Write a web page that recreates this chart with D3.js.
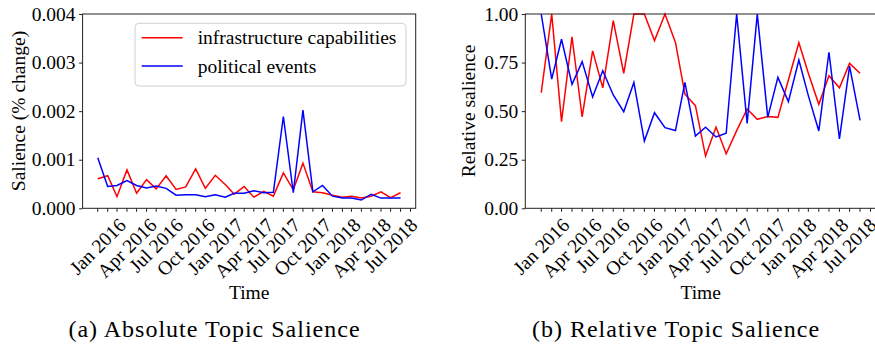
<!DOCTYPE html>
<html>
<head>
<meta charset="utf-8">
<script src="https://cdn.jsdelivr.net/npm/d3@7/dist/d3.min.js"></script>
<style>
  body { margin: 0; background: #fff; }
  svg text { font-family: "Liberation Serif", "Times New Roman", Times, serif; }
</style>
</head>
<body>
<script>

// monthly observations, Jan 2016 .. Aug 2018
var months = [
  "2016-01","2016-02","2016-03","2016-04","2016-05","2016-06","2016-07","2016-08",
  "2016-09","2016-10","2016-11","2016-12","2017-01","2017-02","2017-03","2017-04",
  "2017-05","2017-06","2017-07","2017-08","2017-09","2017-10","2017-11","2017-12",
  "2018-01","2018-02","2018-03","2018-04","2018-05","2018-06","2018-07","2018-08"
];

var tickMonths = ["2016-01","2016-04","2016-07","2016-10","2017-01","2017-04",
                  "2017-07","2017-10","2018-01","2018-04","2018-07"];
var tickLabels = ["Jan 2016","Apr 2016","Jul 2016","Oct 2016","Jan 2017","Apr 2017",
                  "Jul 2017","Oct 2017","Jan 2018","Apr 2018","Jul 2018"];

var seriesNames = ["infrastructure capabilities", "political events"];

// (a) absolute salience
var infraAbs = [0.00061,0.00067,0.00024,0.00079,0.00031,0.00059,0.00040,0.00067,
                0.00039,0.00044,0.00081,0.00041,0.00068,0.00049,0.00029,0.00045,
                0.00023,0.00035,0.00025,0.00073,0.00038,0.00093,0.00034,0.00032,
                0.00027,0.00023,0.00025,0.00021,0.00025,0.00034,0.00022,0.00032];
var polAbs   = [0.00104,0.00045,0.00047,0.00057,0.00047,0.00042,0.00046,0.00041,
                0.00027,0.00028,0.00028,0.00024,0.00028,0.00023,0.00031,0.00031,
                0.00036,0.00032,0.00033,0.00189,0.00032,0.00202,0.00034,0.00047,
                0.00025,0.00021,0.00021,0.00017,0.00029,0.00021,0.00021,0.00021];

// (b) relative salience
var infraRel = [0.595,1.000,0.446,0.883,0.470,0.810,0.620,0.966,
                0.695,1.000,1.000,0.863,1.000,0.854,0.587,0.528,
                0.269,0.418,0.281,0.400,0.511,0.458,0.472,0.468,
                0.660,0.852,0.695,0.535,0.682,0.620,0.746,0.695];
var polRel   = [1.000,0.665,0.870,0.638,0.755,0.573,0.708,0.583,
                0.497,0.648,0.346,0.492,0.415,0.400,0.648,0.372,
                0.417,0.367,0.386,1.000,0.437,1.000,0.468,0.674,
                0.549,0.763,0.580,0.398,0.803,0.357,0.732,0.453];

var absTicks = [0, 0.001, 0.002, 0.003, 0.004];
var relTicks = [0, 0.25, 0.5, 0.75, 1.0];


var W = 875, H = 347,
    fs = 19.5,
    serif = "Liberation Serif, Times New Roman, Times, serif",
    parse = d3.timeParse("%Y-%m"),
    dates = months.map(parse),
    colors = ["#ff0000", "#0000ff"];

var svg = d3.select("body").append("svg")
    .attr("width", W)
    .attr("height", H)
    .attr("font-family", serif);


function panel(opt) {

    var span = dates[dates.length - 1] - dates[0],
        pad = span * 0.05;

    var x = d3.scaleTime()
        .domain([new Date(+dates[0] - pad), new Date(+dates[dates.length - 1] + pad)])
        .range([opt.left, opt.right]);

    var y = d3.scaleLinear()
        .domain([opt.yTicks[0], opt.yTicks[opt.yTicks.length - 1]])
        .range([208.3, 14]);

    var g = svg.append("g");

    // lines
    var line = d3.line()
        .x(function(d, i) { return x(dates[i]); })
        .y(function(d) { return y(d); });

    opt.series.forEach(function(s, k) {
        g.append("path")
            .datum(s)
            .attr("d", line)
            .attr("fill", "none")
            .attr("stroke", colors[k])
            .attr("stroke-width", 1.5);
    });

    // frame
    g.append("rect")
        .attr("x", opt.left)
        .attr("y", 14)
        .attr("width", opt.right - opt.left)
        .attr("height", 208.3 - 14)
        .attr("fill", "none")
        .attr("stroke", "#222")
        .attr("stroke-width", 1);

    // y axis
    var yAxis = d3.axisLeft(y)
        .tickValues(opt.yTicks)
        .tickFormat(d3.format(opt.yFormat))
        .tickSize(3.5)
        .tickPadding(3.5);

    var ya = g.append("g")
        .attr("transform", "translate(" + opt.left + ",0)")
        .call(yAxis)
        .attr("font-family", serif)
        .attr("font-size", fs);
    ya.select(".domain").remove();
    ya.selectAll("line").attr("stroke", "#222");
    ya.selectAll("text").attr("fill", "#000");

    // x axis: minor tick each month, label each quarter
    var tickDates = d3.timeMonth.range(dates[0], x.domain()[1]);

    var xa = g.append("g")
        .attr("transform", "translate(0,208.3)");

    xa.selectAll("line")
        .data(tickDates)
        .join("line")
            .attr("x1", function(d) { return x(d); })
            .attr("x2", function(d) { return x(d); })
            .attr("y1", 0)
            .attr("y2", 3.5)
            .attr("stroke", "#222")
            .attr("stroke-width", 1);

    xa.selectAll("text")
        .data(tickMonths)
        .join("text")
            .text(function(d, i) { return tickLabels[i]; })
            .attr("font-size", fs)
            .attr("text-anchor", "middle")
            .attr("dominant-baseline", "central")
            .each(function(d) {
                var L = this.getComputedTextLength(),
                    half = (L + fs * 0.8) / (2 * Math.SQRT2);
                d3.select(this)
                    .attr("transform", "translate(" + x(parse(d)) + "," + (8 + half) + ") rotate(-45)");
            });

    // axis titles
    g.append("text")
        .attr("x", (opt.left + opt.right) / 2)
        .attr("y", 299)
        .attr("text-anchor", "middle")
        .attr("font-size", fs)
        .text("Time");

    g.append("text")
        .attr("transform", "translate(" + opt.yLabelX + ",111) rotate(-90)")
        .attr("text-anchor", "middle")
        .attr("font-size", fs)
        .text(opt.yLabel);

    // caption
    g.append("text")
        .attr("x", opt.capX)
        .attr("y", 337)
        .attr("text-anchor", "middle")
        .attr("font-size", 24)
        .attr("letter-spacing", 1)
        .text(opt.caption);

    return g;
}


var gA = panel({
    left: 82.6, right: 415.7,
    yTicks: absTicks, yFormat: ".3f",
    yLabel: "Salience (% change)", yLabelX: 24.5,
    series: [infraAbs, polAbs],
    caption: "(a) Absolute Topic Salience", capX: 214.5
});

panel({
    left: 525.3, right: 876,
    yTicks: relTicks, yFormat: ".2f",
    yLabel: "Relative salience", yLabelX: 475,
    series: [infraRel, polRel],
    caption: "(b) Relative Topic Salience", capX: 676
});


// legend on panel (a)
var legend = gA.append("g");

legend.append("rect")
    .attr("x", 135)
    .attr("y", 23.3)
    .attr("width", 271)
    .attr("height", 62.7)
    .attr("rx", 4)
    .attr("fill", "#fff")
    .attr("fill-opacity", 0.8)
    .attr("stroke", "#d0d0d0")
    .attr("stroke-width", 1);

seriesNames.forEach(function(name, k) {
    var ly = 37.7 + k * 28.3;
    legend.append("line")
        .attr("x1", 141.7).attr("x2", 182.7)
        .attr("y1", ly).attr("y2", ly)
        .attr("stroke", colors[k])
        .attr("stroke-width", 1.5);
    legend.append("text")
        .attr("x", 197.7)
        .attr("y", ly + 6.7)
        .attr("font-size", fs)
        .text(name);
});

</script>
</body>
</html>
